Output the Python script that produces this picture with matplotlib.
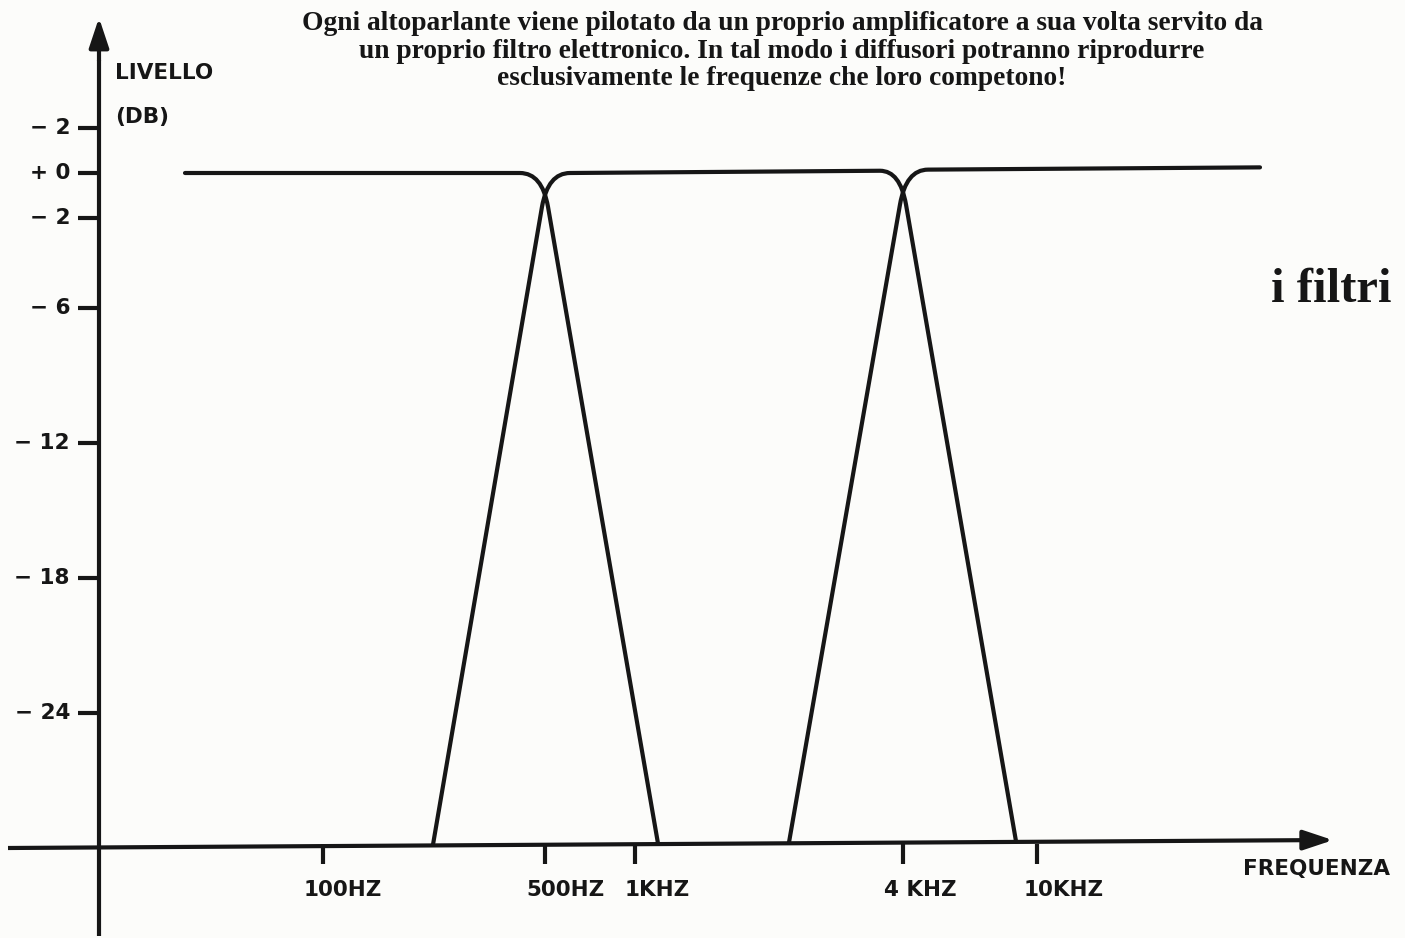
import matplotlib
matplotlib.use("Agg")
import matplotlib.pyplot as plt
from matplotlib.path import Path
from matplotlib.patches import PathPatch

# livelli segnati sull'asse verticale (dB)
livelli = [2, 0, -2, -6, -12, -18, -24]
etichette_livelli = ["\u2212 2", "+ 0", "\u2212 2", "\u2212 6", "\u2212 12", "\u2212 18", "\u2212 24"]

# frequenze segnate sull'asse orizzontale (posizione lungo l'asse disegnato)
pos_frequenze = [323, 545, 635, 903, 1037]
etichette_frequenze = ["100HZ", "500HZ", "1KHZ", "4 KHZ", "10KHZ"]
pos_etichette = [343, 565, 657, 920, 1064]

# passa basso (woofer)
passabasso_x = [185, 520, 542, 548, 658]
passabasso_db = [0.0, 0.0, 0.0, -1.5, -29.8]
# passa banda (medio)
passabanda_x = [433, 542, 548, 570, 880, 900, 906, 1016]
passabanda_db = [-29.85, -1.5, 0.0, 0.0, 0.1, 0.1, -1.4, -29.7]
# passa alto (tweeter)
passaalto_x = [789, 900, 906, 928, 1260]
passaalto_db = [-29.75, -1.4, 0.15, 0.15, 0.25]

M, L, C = Path.MOVETO, Path.LINETO, Path.CURVE3
codici_basso = [M, L, C, C, L]
codici_banda = [M, L, C, C, L, C, C, L]
codici_alto = [M, L, C, C, L]

nero = "#161616"
sfondo = "#fcfcfa"

fig = plt.figure(figsize=(14.05, 9.38), dpi=100, facecolor=sfondo)
ax = fig.add_axes([0, 0, 1, 1])
ax.set_facecolor(sfondo)
ax.axis("off")
# 22.5 px per dB, 0 dB a 173 px dall'alto
ax.set_xlim(0, 1405)
ax.set_ylim((173 - 938) / 22.5, 173 / 22.5)

# assi con freccia
ax.plot([99, 99], [-33.9, 5.0], color=nero, lw=3, solid_capstyle="butt")
ax.annotate("", xy=(99, 6.9), xytext=(99, 5.0),
            arrowprops=dict(arrowstyle="-|>,head_length=0.9,head_width=0.3",
                            mutation_scale=20, color=nero, lw=3,
                            shrinkA=0, shrinkB=0))
ax.plot([8, 1312], [-30.0, -29.65], color=nero, lw=3, solid_capstyle="butt")
ax.annotate("", xy=(1333, -29.65), xytext=(1310, -29.65),
            arrowprops=dict(arrowstyle="-|>,head_length=0.9,head_width=0.3",
                            mutation_scale=20, color=nero, lw=3,
                            shrinkA=0, shrinkB=0))

# tacche e etichette asse y
font_assi = dict(family="DejaVu Sans", weight="bold", color=nero)
ax.hlines(livelli, 78, 99, color=nero, lw=3)
for lv, et in zip(livelli, etichette_livelli):
    ax.text(70, lv, et, ha="right", va="center", fontsize=15.5, **font_assi)

ax.text(115, (173 - 73) / 22.5, "LIVELLO", ha="left", va="center", fontsize=15.5, **font_assi)
ax.text(115, (173 - 117) / 22.5, "(DB)", ha="left", va="center", fontsize=15.5, **font_assi)

# tacche e etichette asse x
ax.vlines(pos_frequenze, -30.7, -29.8, color=nero, lw=3)
for px, et in zip(pos_etichette, etichette_frequenze):
    ax.text(px, (173 - 890) / 22.5, et, ha="center", va="center", fontsize=15.5, **font_assi)
ax.text(1243, (173 - 869) / 22.5, "FREQUENZA", ha="left", va="center", fontsize=15.5, **font_assi)

# curve dei filtri
for xs, ys, cod in [(passabasso_x, passabasso_db, codici_basso),
                    (passabanda_x, passabanda_db, codici_banda),
                    (passaalto_x, passaalto_db, codici_alto)]:
    p = Path(list(zip(xs, ys)), cod)
    ax.add_patch(PathPatch(p, fill=False, edgecolor=nero, lw=3,
                           capstyle="round", joinstyle="round"))

# testi
ax.text(782, (173 - 51) / 22.5,
        "Ogni altoparlante viene pilotato da un proprio amplificatore a sua volta servito da\n"
        "un proprio filtro elettronico. In tal modo i diffusori potranno riprodurre\n"
        "esclusivamente le frequenze che loro competono!",
        ha="center", va="center", multialignment="center", linespacing=1.15,
        fontsize=19.8, family="Liberation Serif", weight="bold", color=nero)
ax.text(1331, (173 - 290) / 22.5, "i filtri", ha="center", va="center",
        fontsize=35, family="Liberation Serif", weight="bold", color=nero)

fig.savefig("out.png", dpi=100, facecolor=sfondo)
